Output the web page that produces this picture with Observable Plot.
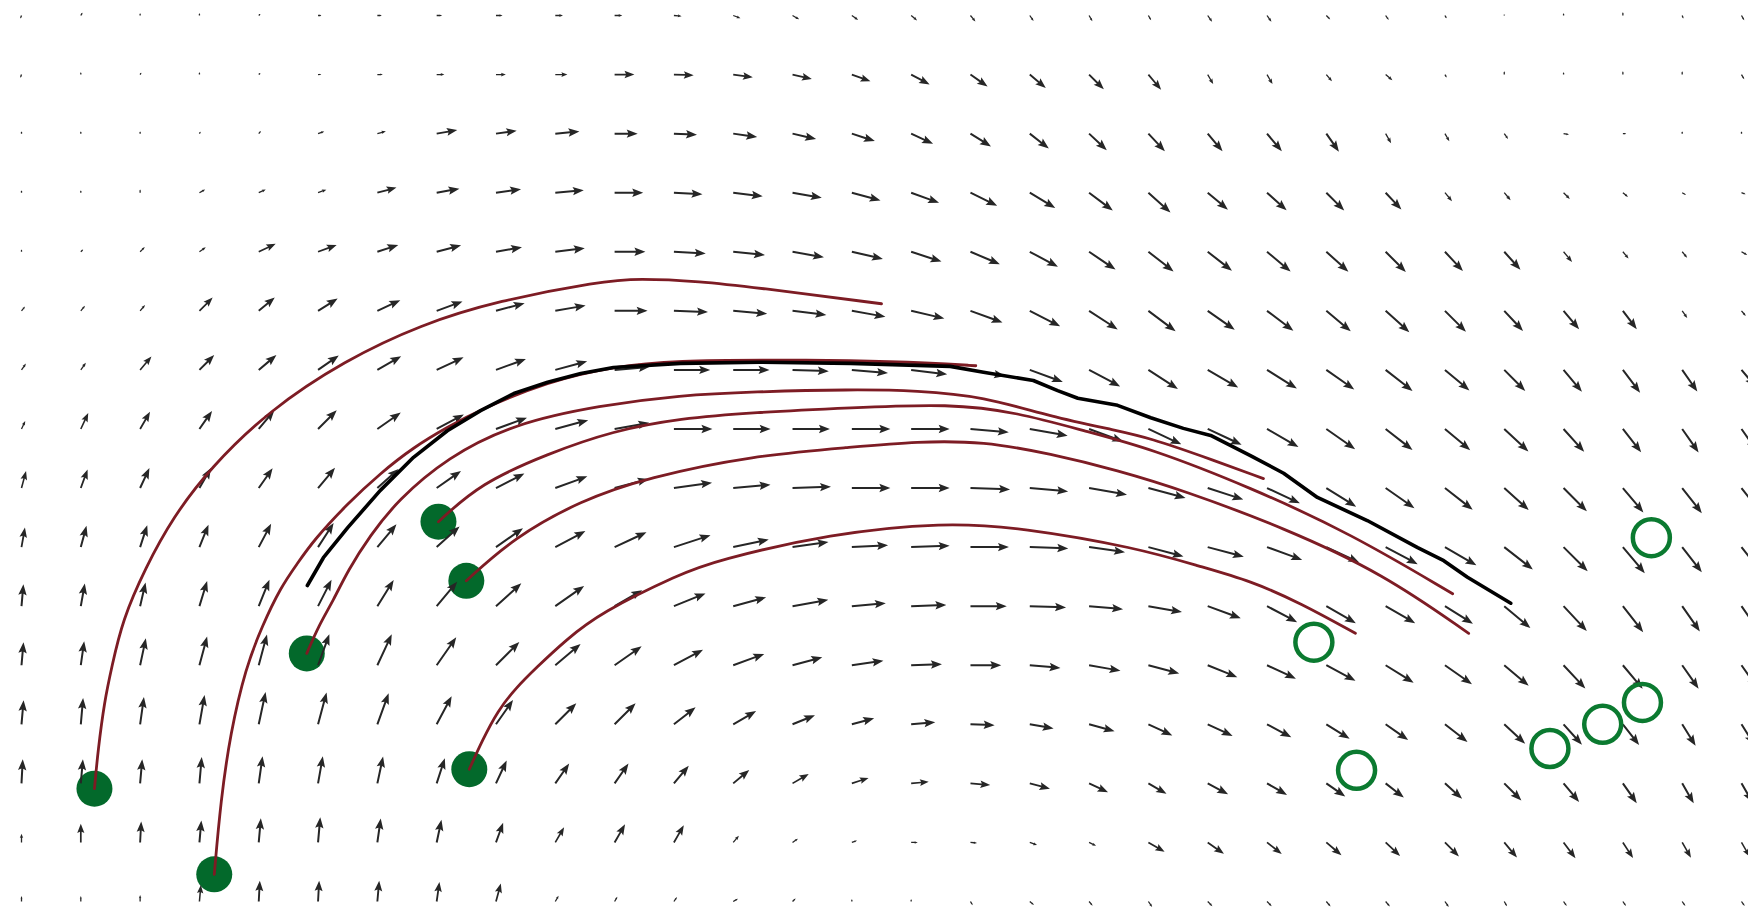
<!DOCTYPE html>
<html>
<head>
<meta charset="utf-8">
<script src="https://cdn.jsdelivr.net/npm/d3@7"></script>
<script src="https://cdn.jsdelivr.net/npm/@observablehq/plot@0.6"></script>
<style>
  html, body { margin: 0; padding: 0; background: #fff; }
  #chart svg { display: block; }
</style>
</head>
<body>
<div id="chart"></div>
<script>
// Flow field sampled on a 30 x 16 grid. Rows are listed from the top row (y = 15)
// down to the bottom row (y = 0); columns run left to right (x = 0 .. 29).
const nCols = 30;
const nRows = 16;

// Direction of the flow, compass degrees (0 = up, 90 = right, 180 = down)
const fieldDirection = [
  [200, 30, 0, 0, 45, 90, 90, 90, 90, 90, 90, 95, 110, 120, 125, 130, 140, 145, 150, 150, 145, 145, 135, 145, 150, 0, 0, 0, 160, 150],
  [200, 0, 30, 0, 45, 80, 90, 90, 90, 90, 90, 92, 98, 103, 110, 118, 125, 130, 135, 140, 150, 150, 140, 130, 150, 0, 0, 0, 0, 150],
  [0, 0, 0, 30, 40, 70, 75, 80, 82, 85, 90, 93, 98, 103, 108, 115, 122, 128, 133, 137, 140, 140, 145, 150, 150, 145, 100, 90, 0, 0],
  [0, 0, 0, 60, 65, 70, 75, 80, 82, 85, 90, 93, 97, 100, 105, 110, 116, 121, 127, 132, 130, 132, 135, 137, 140, 140, 135, 130, 120, 110],
  [0, 45, 45, 55, 65, 70, 72, 75, 80, 83, 90, 93, 96, 100, 103, 108, 113, 118, 124, 128, 128, 130, 132, 135, 137, 138, 140, 140, 140, 120],
  [40, 40, 40, 45, 50, 58, 65, 70, 75, 80, 90, 92, 95, 97, 100, 103, 110, 117, 123, 127, 125, 127, 130, 132, 135, 137, 140, 143, 145, 140],
  [35, 35, 40, 45, 50, 55, 60, 65, 70, 75, 85, 90, 90, 92, 95, 97, 100, 110, 118, 123, 120, 122, 125, 128, 130, 135, 140, 143, 145, 140],
  [25, 25, 30, 35, 40, 45, 55, 62, 70, 75, 80, 90, 90, 90, 90, 90, 95, 100, 110, 115, 115, 120, 125, 128, 130, 133, 138, 142, 145, 145],
  [15, 20, 25, 30, 35, 40, 48, 55, 63, 70, 75, 82, 85, 88, 90, 90, 92, 95, 100, 105, 108, 115, 122, 125, 128, 132, 135, 140, 142, 142],
  [10, 15, 18, 22, 28, 33, 40, 48, 55, 62, 65, 72, 78, 82, 87, 88, 90, 92, 98, 105, 105, 110, 115, 118, 120, 128, 135, 140, 142, 142],
  [5, 10, 13, 17, 22, 27, 32, 40, 48, 55, 60, 68, 75, 80, 85, 88, 90, 92, 95, 100, 110, 118, 120, 120, 122, 130, 137, 142, 145, 145],
  [5, 8, 12, 15, 15, 20, 25, 35, 45, 50, 55, 62, 70, 75, 82, 88, 90, 95, 100, 105, 112, 115, 118, 122, 125, 130, 137, 140, 145, 145],
  [5, 5, 8, 10, 12, 15, 20, 28, 35, 45, 45, 52, 60, 68, 75, 85, 92, 100, 105, 115, 115, 118, 122, 125, 128, 133, 138, 142, 148, 148],
  [3, 5, 5, 5, 8, 10, 12, 18, 25, 35, 35, 40, 50, 60, 72, 85, 95, 105, 115, 120, 118, 120, 125, 128, 132, 135, 140, 145, 150, 150],
  [0, 0, 3, 5, 5, 5, 8, 12, 20, 30, 30, 30, 40, 55, 70, 90, 95, 110, 115, 120, 125, 128, 130, 133, 135, 140, 143, 147, 150, 150],
  [0, 0, 0, 5, 3, 3, 5, 8, 15, 30, 30, 35, 60, 45, 0, 0, 150, 130, 140, 145, 135, 135, 140, 140, 145, 150, 145, 145, 145, 145]
];

// Speed of the flow at each grid point
const fieldSpeed = [
  [3, 3, 2, 2, 2, 3, 4, 5, 6, 7, 7, 7, 7, 7, 7, 7, 7, 6, 6, 5, 7, 7, 5, 5, 3, 1, 2, 3, 3, 5],
  [3, 2, 2, 2, 2, 3, 5, 7, 9, 11, 18, 18, 18, 18, 18, 19, 19, 19, 19, 18, 10, 10, 8, 8, 3, 3, 2, 3, 3, 5],
  [2, 2, 2, 2, 3, 6, 8, 19, 19, 22, 21, 21, 22, 22, 22, 22, 22, 22, 22, 22, 21, 21, 20, 10, 8, 6, 5, 3, 2, 2],
  [2, 2, 3, 6, 7, 8, 18, 21, 23, 26, 26, 26, 27, 27, 27, 27, 27, 27, 27, 27, 24, 24, 23, 21, 10, 9, 8, 6, 4, 4],
  [2, 3, 6, 7, 17, 18, 20, 23, 24, 27, 28, 29, 29, 29, 29, 29, 29, 29, 29, 29, 28, 28, 27, 26, 24, 22, 12, 8, 7, 6],
  [5, 6, 7, 17, 19, 21, 23, 25, 27, 28, 30, 31, 31, 31, 31, 31, 31, 31, 31, 31, 30, 30, 29, 29, 27, 25, 22, 21, 8, 6],
  [7, 8, 16, 19, 21, 23, 25, 27, 29, 30, 32, 33, 33, 33, 33, 33, 32, 32, 32, 32, 32, 32, 31, 31, 29, 27, 26, 26, 24, 20],
  [8, 16, 18, 20, 22, 24, 26, 28, 30, 31, 32, 35, 34, 34, 35, 35, 35, 35, 33, 33, 34, 33, 32, 31, 30, 30, 28, 27, 26, 24],
  [16, 18, 20, 21, 22, 24, 26, 27, 29, 31, 32, 35, 34, 35, 35, 35, 36, 35, 35, 35, 34, 33, 32, 32, 32, 30, 30, 29, 29, 28],
  [18, 20, 21, 22, 24, 26, 27, 28, 30, 31, 32, 35, 33, 33, 33, 35, 35, 35, 33, 33, 34, 34, 33, 33, 33, 33, 31, 31, 29, 28],
  [20, 21, 22, 24, 26, 27, 28, 29, 31, 32, 29, 31, 31, 33, 31, 32, 33, 33, 31, 31, 32, 31, 31, 31, 30, 31, 31, 30, 28, 27],
  [21, 22, 25, 27, 29, 30, 31, 31, 30, 30, 30, 30, 30, 28, 29, 28, 28, 28, 29, 29, 29, 29, 30, 30, 30, 29, 29, 28, 26, 25],
  [22, 24, 25, 27, 30, 30, 30, 29, 27, 27, 27, 25, 24, 22, 21, 22, 22, 22, 24, 24, 25, 25, 25, 25, 26, 26, 25, 24, 23, 22],
  [22, 22, 22, 24, 25, 25, 25, 24, 23, 22, 22, 21, 19, 17, 16, 16, 18, 19, 19, 19, 21, 21, 21, 21, 21, 22, 22, 22, 21, 20],
  [8, 17, 19, 20, 22, 23, 22, 21, 19, 16, 19, 18, 8, 6, 5, 6, 6, 7, 7, 17, 18, 17, 18, 18, 18, 18, 18, 17, 16, 15],
  [5, 5, 6, 15, 19, 19, 19, 18, 17, 6, 5, 5, 5, 4, 2, 2, 4, 5, 5, 6, 6, 6, 6, 6, 6, 5, 5, 5, 5, 5]
];

// Simulated trajectories, [x, y] in grid units
const trajectoryA = [[1.23, 1.91], [1.29, 2.56], [1.40, 3.40], [1.52, 3.96], [1.70, 4.76], [2.09, 5.65], [2.55, 6.50], [3.19, 7.35], [4.17, 8.31], [5.45, 9.16], [6.74, 9.77], [8.03, 10.17], [9.76, 10.50], [10.40, 10.55], [11.45, 10.50], [12.34, 10.40], [14.50, 10.12]];
const trajectoryB = [[3.25, 0.46], [3.36, 1.71], [3.52, 2.84], [3.78, 3.96], [4.06, 4.67], [4.37, 5.32], [4.65, 5.72], [4.92, 6.11], [5.50, 6.74], [6.05, 7.25], [6.61, 7.69], [7.18, 8.03], [7.74, 8.33], [8.87, 8.80], [9.98, 9.06], [11.11, 9.16], [12.46, 9.17], [13.98, 9.16], [15.33, 9.12], [16.09, 9.07]];
const trajectoryC = [[4.81, 4.20], [5.01, 4.67], [5.26, 5.10], [5.50, 5.60], [5.88, 6.20], [6.34, 6.79], [7.18, 7.52], [8.30, 8.09], [9.76, 8.40], [11.11, 8.57], [12.34, 8.63], [13.98, 8.67], [15.11, 8.65], [16.22, 8.55], [17.35, 8.21], [18.48, 7.97], [19.04, 7.84], [19.88, 7.55], [20.94, 7.16]];
const trajectoryD = [[7.03, 6.43], [7.74, 7.08], [8.87, 7.58], [9.98, 7.97], [11.11, 8.18], [12.34, 8.28], [13.98, 8.36], [15.66, 8.43], [16.79, 8.28], [17.91, 7.97], [19.04, 7.67], [20.72, 7.01], [22.41, 6.23], [24.13, 5.21]];
const trajectoryE = [[7.50, 5.43], [8.30, 6.16], [9.43, 6.79], [10.56, 7.18], [12.34, 7.55], [13.98, 7.69], [15.11, 7.79], [16.22, 7.79], [17.35, 7.58], [18.48, 7.30], [19.59, 6.96], [21.28, 6.33], [22.96, 5.55], [24.40, 4.54]];
const trajectoryF = [[7.55, 2.24], [7.77, 2.73], [8.03, 3.23], [8.33, 3.61], [8.68, 3.96], [9.17, 4.42], [9.76, 4.89], [11.11, 5.55], [11.70, 5.77], [13.64, 6.23], [15.56, 6.42], [16.86, 6.33], [18.80, 5.99], [19.88, 5.67], [20.72, 5.43], [21.57, 5.05], [22.49, 4.54]];

// Observed path
const observedPath = [[4.82, 5.35], [5.09, 5.82], [5.50, 6.33], [6.05, 6.96], [6.61, 7.52], [7.18, 7.97], [7.74, 8.31], [8.30, 8.60], [8.87, 8.79], [9.43, 8.94], [9.98, 9.04], [11.11, 9.11], [12.46, 9.13], [13.98, 9.11], [15.66, 9.06], [16.22, 8.96], [17.06, 8.82], [17.47, 8.65], [17.81, 8.52], [18.48, 8.40], [19.04, 8.19], [19.59, 8.01], [20.05, 7.89], [20.72, 7.55], [21.28, 7.25], [21.85, 6.84], [22.69, 6.45], [23.54, 5.99], [23.98, 5.77], [24.38, 5.49], [25.11, 5.05]];

// Initial states and final states
const startX = [1.23, 3.25, 4.81, 7.03, 7.50, 7.55];
const startY = [1.91, 0.46, 4.20, 6.43, 5.43, 2.24];
const endX = [21.79, 22.51, 25.77, 26.66, 27.33, 27.48];
const endY = [4.39, 2.22, 2.59, 3.00, 3.37, 6.16];

const field = [];
fieldDirection.forEach((row, r) => {
  row.forEach((dir, c) => {
    field.push({x: c, y: nRows - 1 - r, dir, speed: fieldSpeed[r][c]});
  });
});

const toRows = (id, pts) => pts.map(([x, y]) => ({id, x, y}));
const simulated = [
  ...toRows("A", trajectoryA), ...toRows("B", trajectoryB), ...toRows("C", trajectoryC),
  ...toRows("D", trajectoryD), ...toRows("E", trajectoryE), ...toRows("F", trajectoryF)
];
const observed = toRows("obs", observedPath);
const starts = startX.map((x, i) => ({x, y: startY[i]}));
const ends = endX.map((x, i) => ({x, y: endY[i]}));

// Filled quiver-style arrow: shaft plus a triangular head. The head never takes
// more than half of the arrow, so short arrows read as small dashes with a tip.
const SHAFT = 1.0, HEAD_W = 4.2, HEAD_L = 11, NOTCH = 0.14;
const quiverArrow = {
  draw(context, l) {
    if (!(l > 0)) return;
    const hl = Math.min(HEAD_L, 0.5 * l);
    const s = hl / HEAD_L;
    const hw = Math.max(HEAD_W * s, 0.9);
    const sw = SHAFT * Math.max(s, 0.65);
    const back = l - hl;
    const notch = back + hl * NOTCH;
    const pts = [
      [-sw, 0], [-sw, -notch], [-hw, -back], [0, -l],
      [hw, -back], [sw, -notch], [sw, 0]
    ];
    context.moveTo(pts[0][0], pts[0][1]);
    for (let i = 1; i < pts.length; ++i) context.lineTo(pts[i][0], pts[i][1]);
    context.closePath();
  }
};

function vectors(shape) {
  return shape
    ? Plot.vector(field, {x: "x", y: "y", rotate: "dir", length: "speed", anchor: "start", shape, fill: "#262626", stroke: "none"})
    : Plot.vector(field, {x: "x", y: "y", rotate: "dir", length: "speed", anchor: "start", stroke: "#262626", strokeWidth: 1.8});
}

function draw(shape) {
  return Plot.plot({
    width: 1748,
    height: 915,
    marginLeft: 21,
    marginRight: 7,
    marginTop: 15,
    marginBottom: 14,
    x: {domain: [0, nCols - 1], axis: null},
    y: {domain: [0, nRows - 1], axis: null},
    length: {type: "linear", domain: [0, 40], range: [0, 44]},
    style: {background: "#ffffff", overflow: "hidden"},
    marks: [
      Plot.dot(starts, {x: "x", y: "y", r: 18, fill: "#03692b", stroke: "none"}),
      vectors(shape),
      Plot.line(simulated, {x: "x", y: "y", z: "id", stroke: "#7d1c24", strokeWidth: 2.8, curve: "basis"}),
      Plot.line(observed, {x: "x", y: "y", stroke: "#000000", strokeWidth: 3.6, curve: "linear", strokeLinejoin: "round"}),
      Plot.dot(ends, {x: "x", y: "y", r: 18.5, fill: "none", stroke: "#0b7a30", strokeWidth: 4.5})
    ]
  });
}

let chart;
try {
  chart = draw(quiverArrow);
} catch (e) {
  chart = draw(null);
}
document.getElementById("chart").appendChild(chart);
</script>
</body>
</html>
